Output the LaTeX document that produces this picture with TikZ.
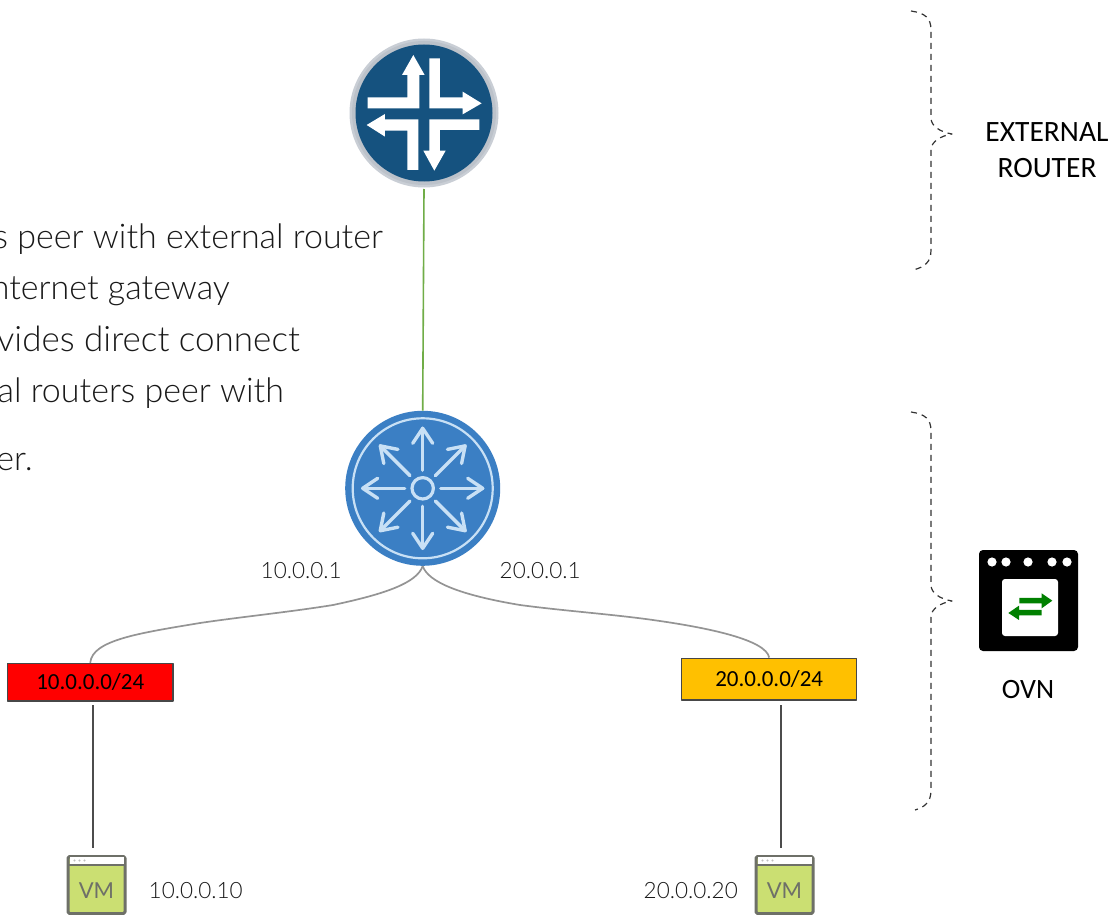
\documentclass[tikz,border=0pt]{standalone}
\usepackage{fontspec}
\setmainfont{Lato Light}
\newfontfamily\regfont{Carlito}
\newfontfamily\vmfont{Lato}
\begin{document}
\begin{tikzpicture}[x=1pt,y=-1pt,line join=round,
  bodytext/.style={anchor=base east,inner sep=0pt,font=\fontsize{34}{34}\selectfont,text=black!90},
  iplabel/.style={anchor=base west,inner sep=0pt,font=\fontsize{22.5}{22.5}\selectfont,text=black!90},
  netbox/.style={draw=black!72,line width=1.5pt,inner sep=0pt,font=\regfont\fontsize{23}{23}\selectfont,text=black},
  bracket/.style={draw=black!80,line width=1.2pt,dash pattern=on 6pt off 5pt},
  toplink/.style={draw=toplinkgreen,line width=1.6pt},
  graylink/.style={draw=black!42,line width=1.7pt},
  vmlink/.style={draw=black!70,line width=1.7pt},
  roundnode/.style={circle,inner sep=0pt,minimum size=#1},
  vmbox/.style={draw=vmgray,fill=vmgreen,line width=3pt,rounded corners=1.5pt,minimum width=57pt,minimum height=57pt,inner sep=0pt},
  sidelabel/.style={align=center,inner sep=0pt,font=\regfont\fontsize{29.5}{36}\selectfont,text=black}]
\definecolor{navy}{HTML}{15527F}
\definecolor{ringgray}{HTML}{BCC2CA}
\definecolor{ovsblue}{HTML}{3B7FC4}
\definecolor{ovslight}{HTML}{C8E0F5}
\definecolor{vmgreen}{HTML}{CBDF72}
\definecolor{vmgray}{HTML}{6E7068}
\definecolor{ovngreen}{HTML}{008000}
\definecolor{toplinkgreen}{HTML}{70AD47}
\useasboundingbox (0,0) rectangle (1114,915);
\fill[white] (0,0) rectangle (1114,915);

% text, cut by the picture's edge
\begin{scope}
\clip (0,0) rectangle (1114,915);
\node[bodytext] (t1) at (383,248) {s peer with external router};
\node[bodytext] (t2) at (230,299) {nternet gateway};
\node[bodytext,font=\fontsize{35}{35}\selectfont] (t3) at (300,351) {vides direct connect};
\node[bodytext] (t4) at (284,402) {al routers peer with};
\node[bodytext] (t5) at (33,470) {er.};
\end{scope}

% external router
\node[roundnode=149pt,fill=ringgray!80] (ext) at (424,113) {};
\fill[ringgray] (ext.center) circle (72);
\fill[navy] (ext.center) circle (68.5);
\begin{scope}[shift={(330,20)},x=0.3333pt,y=-0.3333pt]
\fill[white] (113,232)--(232,232)--(232,165)--(216,165)--(250,105)--(284,165)--(268,165)--(268,265)--(113,265)--cycle;
\fill[white] (298,115)--(330,115)--(330,232)--(398,232)--(398,215)--(455,250)--(398,283)--(398,265)--(298,265)--cycle;
\fill[white] (110,315)--(165,282)--(165,298)--(265,298)--(265,450)--(232,450)--(232,332)--(165,332)--(165,350)--cycle;
\fill[white] (298,298)--(448,298)--(448,330)--(330,330)--(330,392)--(347,392)--(313,452)--(280,392)--(298,392)--cycle;
\end{scope}

% OVN router
\node[roundnode=155pt,fill=ovsblue] (ovs) at (422.7,488.3) {};
\draw[ovslight,line width=2.2pt] (ovs.center) circle (70);
\draw[ovslight,line width=3.2pt] (ovs.center) circle (10.7);
\foreach \a in {0,45,...,315}{
  \begin{scope}[shift={(422.7,488.3)},rotate=\a]
  \draw[ovslight,line width=3.4pt,line cap=round] (0,-18)--(0,-60);
  \draw[ovslight,line width=3.4pt,line cap=round] (-10,-45)--(0,-60)--(10,-45);
  \end{scope}
}

% connectors
\coordinate (extfoot) at (424,189);
\draw[toplink] (extfoot) -- (ovs.north);
\node[netbox,fill=red,minimum width=165.5pt,minimum height=37.5pt] (n1) at (90.25,682.25) {10.0.0.0/24};
\node[netbox,fill={rgb,255:red,255;green,192;blue,0},minimum width=175pt,minimum height=41.7pt] (n2) at (769.2,679.2) {20.0.0.0/24};
\draw[graylink] (ovs.south) .. controls (417,583) and (385,594) .. (333,605) .. controls (290,612) and (240,617) .. (200,623) .. controls (140,633) and (92,640) .. (n1.north);
\draw[graylink] (ovs.south) .. controls (428,582) and (460,595) .. (520,605) .. controls (565,611) and (610,614) .. (653,620) .. controls (710,628) and (766,640) .. (n2.north);

% VMs
\node[vmbox] (vm1) at (96.5,885) {};
\node[vmbox] (vm2) at (784.5,885) {};
\foreach \v in {vm1,vm2}{
  \fill[white] ([shift={(-27,-28)}]\v.center) rectangle ([shift={(27,-20)}]\v.center);
  \draw[vmgray,line width=1.5pt] ([shift={(-28,-20)}]\v.center) -- ([shift={(28,-20)}]\v.center);
  \foreach \d in {-22,-17,-12}{\fill[black!25] ([shift={(\d,-24.5)}]\v.center) circle (1.2);}
  \node[inner sep=0pt,font=\vmfont\fontsize{22}{22}\selectfont,text=vmgray] at ([yshift=-6]\v.center) {VM};
}
\coordinate (v1top) at (93,705);
\coordinate (v1low) at (93,848);
\coordinate (v2top) at (781,705);
\coordinate (v2low) at (781,848);
\draw[vmlink] (v1top) -- (v1low);
\draw[vmlink] (v2top) -- (v2low);

% IP labels
\node[iplabel] (ip1) at (260.5,578) {10.0.0.1};
\node[iplabel] (ip2) at (499.5,578) {20.0.0.1};
\node[iplabel] (ip3) at (148.5,898) {10.0.0.10};
\node[iplabel] (ip4) at (643.5,898) {20.0.0.20};

% braces
\draw[bracket] (911,11) .. controls (925,13) and (931,18) .. (931,30) -- (931,118) .. controls (931,126) and (940,132) .. (952,134) .. controls (940,136) and (931,142) .. (931,150) -- (931,250) .. controls (931,262) and (925,267) .. (913,270);
\draw[bracket] (911,412) .. controls (925,414) and (931,419) .. (931,431) -- (931,585) .. controls (931,593) and (940,599) .. (952,601) .. controls (940,603) and (931,609) .. (931,617) -- (931,790) .. controls (931,802) and (925,807) .. (915,810);

% side labels
\node[sidelabel] (lab1) at (1047,150) {EXTERNAL\\ROUTER};
\node[sidelabel,anchor=base,font=\regfont\fontsize{28}{28}\selectfont] (lab2) at (1028,698) {OVN};

% OVN icon
\node[fill=black,rounded corners=4pt,minimum width=99pt,minimum height=101pt,inner sep=0pt] (ovn) at (1028.5,600.5) {};
\foreach \px in {992,1006,1028,1052,1067}{\fill[white] (\px,562) circle (4.6);}
\fill[white,rounded corners=3pt] (1002,579) rectangle (1058,636);
\begin{scope}[shift={(960,540)},x=0.3333pt,y=-0.3333pt]
\fill[ovngreen] (178,174)--(245,174)--(245,160)--(277,182)--(245,205)--(245,190)--(178,190)--cycle;
\fill[ovngreen] (245,210)--(245,226)--(177,226)--(177,240)--(145,219)--(177,197)--(177,210)--cycle;
\end{scope}
\end{tikzpicture}
\end{document}
